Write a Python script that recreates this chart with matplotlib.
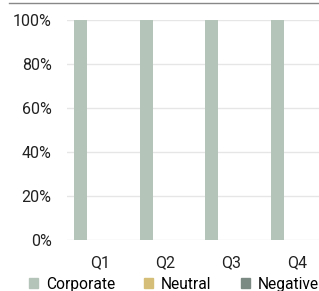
import matplotlib.pyplot as plt
import numpy as np
from matplotlib.lines import Line2D

plt.rcParams['font.family'] = ['Roboto', 'DejaVu Sans']

quarters = ['Q1', 'Q2', 'Q3', 'Q4']
series = ['Corporate', 'Neutral', 'Negative']
corporate = [100, 100, 100, 100]
neutral = [0, 0, 0, 0]
negative = [0, 0, 0, 0]
colors = ['#b5c4b9', '#d5bf78', '#7b8a83']

x = np.arange(len(quarters))
width = 0.2
step = 0.297

fig = plt.figure(figsize=(3.19, 2.91), dpi=100)
ax = fig.add_axes([67/319, 1 - 240/291, 1 - 67/319, 220/291])

for i, (vals, c) in enumerate(zip([corporate, neutral, negative], colors)):
    ax.bar(x + (i - 1) * step, vals, width, color=c, zorder=2)

ax.set_xlim(-0.5, 3.333)
ax.set_ylim(0, 100)
ax.set_yticks([0, 20, 40, 60, 80, 100])
ax.set_yticklabels(['0%', '20%', '40%', '60%', '80%', '100%'])
ax.set_xticks(x)
ax.set_xticklabels(quarters)
ax.tick_params(length=0, labelsize=11.5, colors='#222222')
ax.tick_params(axis='y', pad=11)
ax.tick_params(axis='x', pad=11)
ax.grid(axis='y', color='#e6e6e6', linewidth=1, zorder=0)
for s in ax.spines.values():
    s.set_visible(False)

# ligne du haut
fig.add_artist(Line2D([9/319, 1], [1 - 3/291, 1 - 3/291], color='#888888', linewidth=1))

handles = [plt.Rectangle((0, 0), 1, 1, color=c) for c in colors]
fig.legend(handles, series, loc='lower center', bbox_to_anchor=(0.545, -0.05), ncol=3,
           frameon=False, fontsize=11.2, handlelength=0.6, handleheight=0.6,
           handletextpad=0.5, columnspacing=1.85)

plt.savefig('out.png', dpi=100)
